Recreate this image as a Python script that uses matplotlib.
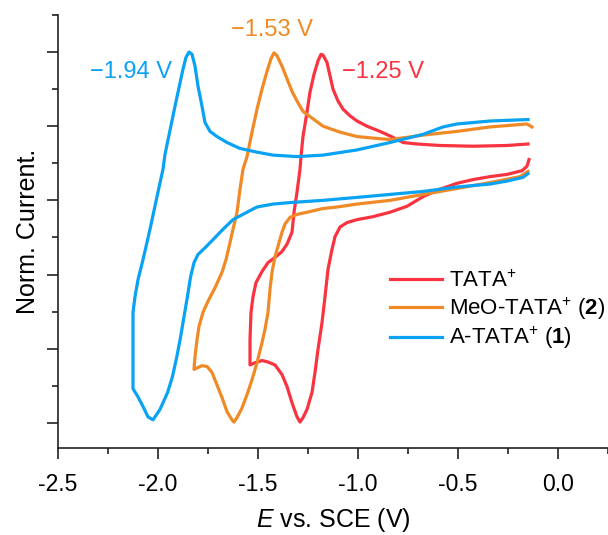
import matplotlib
matplotlib.use("Agg")
import matplotlib.pyplot as plt
from matplotlib.ticker import MultipleLocator, NullFormatter, FormatStrFormatter

plt.rcParams['font.family'] = ['Liberation Sans', 'DejaVu Sans']
plt.rcParams['mathtext.fontset'] = 'custom'
plt.rcParams['mathtext.rm'] = 'Liberation Sans'
plt.rcParams['mathtext.it'] = 'Liberation Sans:italic'
plt.rcParams['mathtext.bf'] = 'Liberation Sans:bold'
plt.rcParams['axes.unicode_minus'] = False

# CV traces (E in V vs SCE, normalised current)
# A-TATA+ (1)
e_blue = [-0.15, -0.175, -0.255, -0.34, -0.505, -0.675, -0.84, -1.005, -1.175, -1.34,
          -1.425, -1.505, -1.555, -1.625, -1.675, -1.725, -1.765, -1.80, -1.82, -1.837,
          -1.853, -1.87, -1.887, -1.906, -1.928, -1.952, -1.99, -2.025, -2.05, -2.075,
          -2.10, -2.125, -2.125, -2.125, -2.115, -2.10, -2.075, -2.04, -2.005, -1.975,
          -1.965, -1.915, -1.875, -1.86, -1.845, -1.83, -1.815, -1.80, -1.78, -1.765,
          -1.74, -1.705, -1.655, -1.59, -1.505, -1.425, -1.305, -1.175, -1.005, -0.84,
          -0.675, -0.575, -0.505, -0.34, -0.15]
i_blue = [3.36, 3.31, 3.26, 3.22, 3.18, 3.12, 3.08, 3.04, 3.00, 2.97,
          2.95, 2.91, 2.84, 2.74, 2.61, 2.47, 2.36, 2.27, 2.16, 1.97,
          1.70, 1.43, 1.16, 0.89, 0.62, 0.41, 0.18, 0.04, 0.08, 0.22,
          0.35, 0.46, 1.22, 1.49, 1.70, 1.93, 2.20, 2.61, 3.05, 3.42,
          3.62, 4.27, 4.77, 4.93, 5.00, 4.97, 4.81, 4.54, 4.27, 4.05,
          3.93, 3.86, 3.78, 3.70, 3.65, 3.61, 3.59, 3.61, 3.68, 3.78,
          3.89, 3.99, 4.03, 4.07, 4.09]

# MeO-TATA+ (2)
e_orange = [-0.15, -0.19, -0.34, -0.505, -0.675, -0.84, -1.005, -1.105, -1.175, -1.255,
            -1.305, -1.34, -1.365, -1.38, -1.40, -1.415, -1.43, -1.44, -1.45, -1.465,
            -1.48, -1.505, -1.53, -1.555, -1.58, -1.605, -1.62, -1.63, -1.655, -1.68,
            -1.705, -1.73, -1.755, -1.78, -1.805, -1.82, -1.815, -1.805, -1.795, -1.775,
            -1.75, -1.715, -1.68, -1.66, -1.64, -1.625, -1.605, -1.59, -1.575, -1.555,
            -1.53, -1.505, -1.48, -1.455, -1.435, -1.42, -1.405, -1.38, -1.355, -1.33,
            -1.305, -1.275, -1.23, -1.175, -1.09, -1.005, -0.925, -0.84, -0.755, -0.675,
            -0.505, -0.34, -0.155, -0.13]
i_orange = [3.39, 3.32, 3.24, 3.16, 3.08, 3.00, 2.95, 2.91, 2.89, 2.84,
            2.81, 2.77, 2.68, 2.57, 2.38, 2.24, 2.03, 1.80, 1.49, 1.26,
            1.08, 0.81, 0.58, 0.38, 0.20, 0.07, 0.01, 0.04, 0.15, 0.34,
            0.51, 0.68, 0.76, 0.77, 0.74, 0.72, 0.89, 1.12, 1.30, 1.49,
            1.64, 1.82, 2.03, 2.20, 2.43, 2.61, 2.84, 3.15, 3.42, 3.59,
            3.92, 4.23, 4.50, 4.74, 4.91, 4.99, 4.95, 4.81, 4.64, 4.47,
            4.34, 4.20, 4.11, 4.00, 3.92, 3.86, 3.84, 3.82, 3.85, 3.88,
            3.93, 3.99, 4.03, 3.99]

# TATA+
e_red = [-0.145, -0.155, -0.18, -0.255, -0.34, -0.425, -0.505, -0.59, -0.675, -0.755, -0.84,
         -0.925, -1.005, -1.055, -1.09, -1.115, -1.13, -1.15, -1.165, -1.18, -1.20,
         -1.215, -1.23, -1.255, -1.275, -1.29, -1.305, -1.33, -1.355, -1.38, -1.415,
         -1.45, -1.48, -1.515, -1.54, -1.54, -1.535, -1.525, -1.51, -1.48, -1.45,
         -1.415, -1.38, -1.355, -1.33, -1.32, -1.305, -1.29, -1.285, -1.275, -1.255,
         -1.24, -1.22, -1.20, -1.185, -1.175, -1.155, -1.14, -1.125, -1.10, -1.075,
         -1.04, -1.005, -0.955, -0.89, -0.825, -0.775, -0.705, -0.59, -0.425, -0.255,
         -0.15]
i_red = [3.55, 3.46, 3.40, 3.35, 3.32, 3.28, 3.23, 3.15, 3.05, 2.92, 2.84,
         2.78, 2.74, 2.70, 2.64, 2.51, 2.34, 2.07, 1.70, 1.35, 0.99,
         0.68, 0.41, 0.18, 0.07, 0.01, 0.08, 0.27, 0.49, 0.65, 0.78,
         0.82, 0.84, 0.81, 0.78, 1.12, 1.49, 1.70, 1.89, 2.04, 2.16,
         2.23, 2.31, 2.41, 2.57, 2.84, 3.11, 3.42, 3.59, 3.86, 4.19,
         4.46, 4.70, 4.88, 4.97, 4.96, 4.86, 4.68, 4.50, 4.34, 4.23,
         4.14, 4.07, 4.00, 3.93, 3.85, 3.78, 3.76, 3.74, 3.73, 3.74,
         3.76]

labels = [r'TATA$^{+}$', r'MeO-TATA$^{+}$ ($\mathbf{2}$)', r'A-TATA$^{+}$ ($\mathbf{1}$)']
colors = ['#FA3340', '#F08A26', '#0AA2F2']
peak_text = ['\u22121.25 V', '\u22121.53 V', '\u22121.94 V']

fig = plt.figure(figsize=(6.08, 5.35), dpi=100)
ax = fig.add_axes([0.0954, 0.1626, 0.9046, 0.8094])

ax.plot(e_red, i_red, color=colors[0], lw=2.3, label=labels[0], solid_joinstyle='round')
ax.plot(e_orange, i_orange, color=colors[1], lw=2.3, label=labels[1], solid_joinstyle='round')
ax.plot(e_blue, i_blue, color=colors[2], lw=2.3, label=labels[2], solid_joinstyle='round')

ax.text(-1.08, 4.73, peak_text[0], color=colors[0], fontsize=17, ha='left', va='center')
ax.text(-1.43, 5.30, peak_text[1], color=colors[1], fontsize=17, ha='center', va='center')
ax.text(-1.93, 4.73, peak_text[2], color=colors[2], fontsize=17, ha='right', va='center')

ax.set_xlim(-2.5, 0.25)
ax.set_ylim(-0.34, 5.5)
ax.xaxis.set_major_locator(MultipleLocator(0.5))
ax.xaxis.set_minor_locator(MultipleLocator(0.25))
ax.yaxis.set_major_locator(MultipleLocator(1))
ax.yaxis.set_minor_locator(MultipleLocator(0.5))
ax.yaxis.set_major_formatter(NullFormatter())
ax.xaxis.set_major_formatter(FormatStrFormatter('%.1f'))

for side in ['top', 'right']:
    ax.spines[side].set_visible(False)
for side in ['left', 'bottom']:
    ax.spines[side].set_linewidth(1.2)
    ax.spines[side].set_color('#222222')
ax.tick_params(which='major', direction='out', length=8, width=1.2, color='#222222',
               labelsize=16.5, pad=10)
ax.tick_params(which='minor', direction='out', length=4, width=1.2, color='#222222')

ax.set_xlabel(r'$E$ vs. SCE (V)', fontsize=18, labelpad=7)
ax.set_ylabel('Norm. Current.', fontsize=18)
ax.yaxis.set_label_coords(-0.033, 0.5)

ax.legend(loc='center left', bbox_to_anchor=(0.641, 0.419), bbox_transform=fig.transFigure,
          frameon=False, fontsize=16, handlelength=2.35, handletextpad=0.3,
          labelspacing=0.15, borderpad=0, borderaxespad=0)

fig.savefig('out.png', dpi=100)
